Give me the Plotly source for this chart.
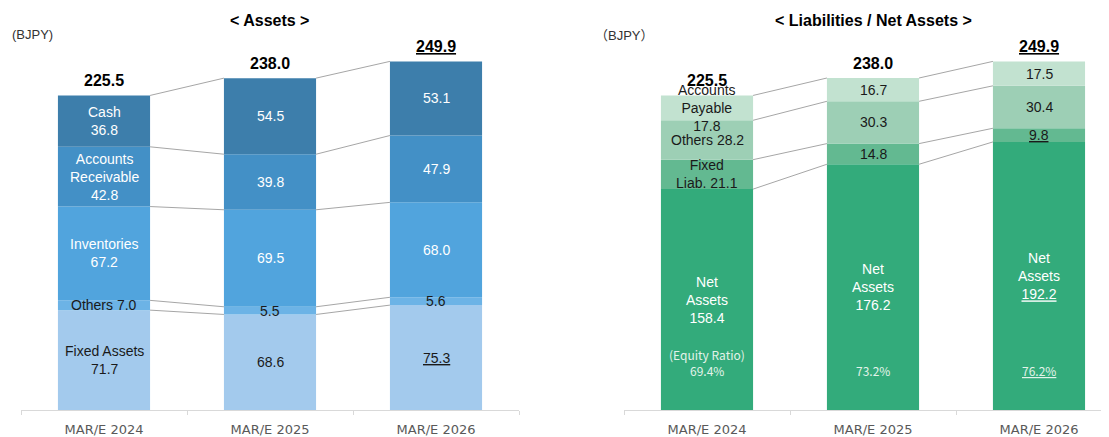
import plotly.graph_objects as go

years = ["MAR/E 2024", "MAR/E 2025", "MAR/E 2026"]

# assets side, bottom to top
fixed_assets = [71.7, 68.6, 75.3]
other_assets = [7.0, 5.5, 5.6]
inventories = [67.2, 69.5, 68.0]
receivables = [42.8, 39.8, 47.9]
cash = [36.8, 54.5, 53.1]
total_assets = [225.5, 238.0, 249.9]

# liabilities / net assets side, bottom to top
net_assets = [158.4, 176.2, 192.2]
fixed_liab = [21.1, 14.8, 9.8]
other_liab = [28.2, 30.3, 30.4]
payables = [17.8, 16.7, 17.5]
total_liab = [225.5, 238.0, 249.9]
equity_ratio = [69.4, 73.2, 76.2]

FONT = "Arial, Liberation Sans, Noto Sans CJK JP, sans-serif"
CJK = "Noto Sans CJK JP, sans-serif"
DARK = "#1a1a1a"
BAR_W = 0.555
PX_PER_UNIT = 1.409

# the page body has an 8px margin, so the figure sits 8px in from the window corner
OFF = 8
W, H = 1109 - OFF, 437 - OFF


def px_x(X):
    return (X - OFF) / W


def px_y(Y):
    return 1 - (Y - OFF) / H


# (values, colour, first-column name, label colour, underline last value)
asset_layers = [
    (fixed_assets, "#a3caed", "Fixed Assets<br>", DARK, True),
    (other_assets, "#6cb3e6", "Others ", DARK, False),
    (inventories, "#51a4dd", "Inventories<br>", "white", False),
    (receivables, "#4390c6", "Accounts<br>Receivable<br>", "white", False),
    (cash, "#3d7eab", "Cash<br>", "white", False),
]
liab_layers = [
    (net_assets, "#33ab7b", None, "white", True),
    (fixed_liab, "#63b991", "Fixed<br>Liab. ", DARK, True),
    (other_liab, "#9dcfb5", "Others ", DARK, False),
    (payables, "#c2e2d0", "Accounts<br>Payable<br>", DARK, False),
]

fig = go.Figure()
annotations = []
xs = list(range(len(years)))


def fmt(v, underline):
    s = f"{v:.1f}"
    return f"<u>{s}</u>" if underline else s


def add_stack(layers, totals, xa, ya):
    base = [0.0] * len(years)
    edges = []
    for vals, color, name, tcolor, ul in layers:
        fig.add_trace(go.Bar(
            x=xs, y=vals, base=list(base), width=BAR_W, xaxis=xa, yaxis=ya,
            marker=dict(color=color, line=dict(width=0)), showlegend=False,
            hoverinfo="skip",
        ))
        for i, v in enumerate(vals):
            val = fmt(v, ul and i == len(years) - 1)
            if name is None:
                txt = "Net<br>Assets<br>" + val
            elif i == 0:
                txt = name + val
            else:
                txt = val
            annotations.append(dict(
                x=i, y=base[i] + v / 2, xref=xa, yref=ya, text=txt, showarrow=False,
                xanchor="center", yanchor="middle",
                font=dict(family=FONT, size=14, color=tcolor), align="center",
            ))
        base = [b + v for b, v in zip(base, vals)]
        edges.append(list(base))

    # connectors between neighbouring bars at every segment boundary
    for edge in edges:
        for i in range(len(years) - 1):
            fig.add_trace(go.Scatter(
                x=[i + BAR_W / 2, i + 1 - BAR_W / 2], y=[edge[i], edge[i + 1]],
                mode="lines", line=dict(color="#a6a6a6", width=1),
                xaxis=xa, yaxis=ya, showlegend=False, hoverinfo="skip",
            ))

    for i, t in enumerate(totals):
        s = f"{t:.1f}"
        if i == len(years) - 1:
            s = f"<u>{s}</u>"
        annotations.append(dict(
            x=i, y=base[i], xref=xa, yref=ya, text=f"<b>{s}</b>", showarrow=False,
            xanchor="center", yanchor="bottom", yshift=4,
            font=dict(family=FONT, size=16, color="black"),
        ))


add_stack(asset_layers, total_assets, "x", "y")
add_stack(liab_layers, total_liab, "x2", "y2")

ratio_font = dict(family=CJK, size=12, color="#e3f3ea")
annotations.append(dict(
    x=0, y=0, xref="x2", yref="y2", text="(Equity Ratio)", showarrow=False,
    xanchor="center", yanchor="middle", yshift=414 - 358, font=ratio_font,
))
for i, r in enumerate(equity_ratio):
    pct = f"{r:.1f}%"
    if i == len(years) - 1:
        pct = f"<u>{pct}</u>"
    annotations.append(dict(
        x=i, y=0, xref="x2", yref="y2", text=pct, showarrow=False,
        xanchor="center", yanchor="middle", yshift=414 - 374, font=ratio_font,
    ))

paren = "<span style='font-family:Noto Sans CJK JP'>{}</span>"
annotations += [
    dict(x=px_x(269), y=px_y(21), xref="paper", yref="paper", showarrow=False,
         xanchor="center", yanchor="middle",
         text="<b>&lt; Assets &gt;</b>", font=dict(family=FONT, size=16, color="black")),
    dict(x=px_x(873), y=px_y(21), xref="paper", yref="paper", showarrow=False,
         xanchor="center", yanchor="middle",
         text="<b>&lt; Liabilities / Net Assets &gt;</b>",
         font=dict(family=FONT, size=16, color="black")),
    dict(x=px_x(10), y=px_y(35), xref="paper", yref="paper", showarrow=False,
         xanchor="left", yanchor="middle", text="(BJPY)",
         font=dict(family=FONT, size=13, color="#333333")),
    dict(x=px_x(593), y=px_y(35), xref="paper", yref="paper", showarrow=False,
         xanchor="left", yanchor="middle",
         text=paren.format("（") + "BJPY" + paren.format("）"),
         font=dict(family=FONT, size=13, color="#333333")),
]

y_top = (414 - OFF) / PX_PER_UNIT
xaxis_common = dict(
    tickmode="array", tickvals=xs, ticktext=years, ticks="", ticklabelstandoff=7,
    showline=True, linecolor="#d9d9d9", linewidth=1, showgrid=False, zeroline=False,
    tickfont=dict(family="DejaVu Sans, sans-serif", size=13, color="#595959"),
    minor=dict(tickmode="array", tickvals=[-0.5, 0.5, 1.5, 2.5], ticks="outside",
               ticklen=4, tickcolor="#d9d9d9", tickwidth=1, showgrid=False),
    fixedrange=True,
)
yaxis_common = dict(range=[0, y_top], domain=[px_y(414), 1], visible=False, fixedrange=True)

fig.update_layout(
    width=W, height=H,
    margin=dict(l=0, r=0, t=0, b=0),
    paper_bgcolor="white", plot_bgcolor="white",
    barmode="overlay",
    xaxis=dict(domain=[px_x(21), px_x(519)], range=[-0.5, 2.5], anchor="y", **xaxis_common),
    xaxis2=dict(domain=[px_x(624), 1], range=[-0.5, -0.5 + (1109 - 624) / 166],
                anchor="y2", **xaxis_common),
    yaxis=dict(anchor="x", **yaxis_common),
    yaxis2=dict(anchor="x2", **yaxis_common),
    annotations=annotations,
)

fig.write_html("out.html")
